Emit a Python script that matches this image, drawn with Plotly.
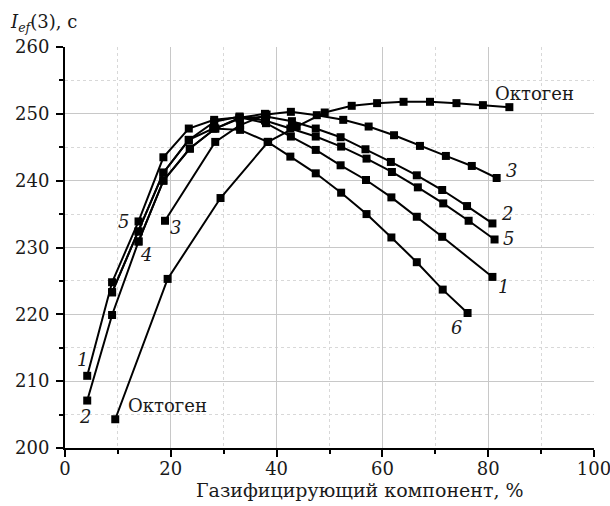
import plotly.graph_objects as go

# Data
x1 = [4.2, 8.9, 13.9, 18.6, 23.4, 28.2, 33.0, 38.0, 42.7, 47.4, 52.1, 56.9, 61.7, 66.5, 71.3, 80.8]
y1 = [210.8, 224.8, 233.9, 243.5, 247.8, 249.1, 249.5, 248.6, 246.6, 244.6, 242.3, 240.1, 237.5, 234.6, 231.6, 225.6]

x2 = [4.2, 8.9, 13.9, 18.6, 23.6, 28.4, 33.0, 38.0, 42.9, 47.4, 52.1, 56.8, 61.6, 66.5, 71.3, 76.0, 80.8]
y2 = [207.1, 219.9, 230.9, 240.0, 244.8, 247.8, 249.3, 249.6, 248.9, 247.8, 246.5, 244.7, 242.8, 240.8, 238.6, 236.2, 233.6]

x3 = [18.9, 28.4, 33.1, 38.1, 42.7, 47.6, 52.6, 57.4, 62.2, 67.1, 72.0, 76.9, 81.6]
y3 = [234.0, 245.8, 248.3, 249.9, 250.3, 249.8, 249.1, 248.1, 246.8, 245.2, 243.7, 242.2, 240.4]

x4 = [13.9, 18.6, 23.6, 28.4, 33.0, 37.8]
y4 = [230.9, 240.0, 244.8, 247.8, 249.4, 250.0]

x5 = [8.9, 13.9, 18.6, 23.4, 28.2, 33.0, 37.8, 42.6, 47.4, 52.2, 57.0, 61.8, 66.7, 71.5, 76.3, 81.2]
y5 = [223.3, 232.4, 241.2, 246.1, 248.8, 249.6, 249.0, 247.8, 246.6, 245.1, 243.3, 241.3, 239.0, 236.6, 234.0, 231.2]

x6 = [8.9, 13.9, 18.6, 23.4, 28.0, 33.1, 38.3, 42.6, 47.4, 52.2, 57.0, 61.7, 66.5, 71.4, 76.1]
y6 = [223.3, 232.4, 241.2, 246.1, 247.8, 247.6, 245.8, 243.6, 241.1, 238.2, 235.0, 231.5, 227.8, 223.7, 220.2]

x_oct = [9.5, 19.4, 29.4, 38.4, 43.8, 49.1, 54.2, 59.0, 64.0, 69.0, 74.0, 79.0, 84.0]
y_oct = [204.3, 225.3, 237.4, 245.8, 248.1, 250.2, 251.2, 251.6, 251.8, 251.8, 251.6, 251.3, 251.0]

series = [(x1, y1), (x2, y2), (x3, y3), (x4, y4), (x5, y5), (x6, y6), (x_oct, y_oct)]

# Curve labels: (text, x, y, xanchor, italic)
labels = [
    ("1", 3.3, 213.2, "center", True),
    ("2", 3.8, 204.7, "center", True),
    ("Октоген", 11.5, 206.4, "left", False),
    ("5", 11.0, 233.9, "center", True),
    ("4", 15.4, 228.9, "center", True),
    ("3", 20.8, 233.0, "center", True),
    ("Октоген", 81.0, 253.1, "left", False),
    ("3", 84.4, 241.5, "center", True),
    ("2", 83.5, 235.1, "center", True),
    ("5", 83.8, 231.4, "center", True),
    ("1", 82.9, 224.2, "center", True),
    ("6", 74.0, 218.1, "center", True),
]

y_title = "<i>I</i><sub><i>ef</i></sub>(3), с"
x_title = "Газифицирующий компонент, %"

FONT = "DejaVu Serif"
TXT = "#1a1a1a"

fig = go.Figure()
for xs, ys in series:
    fig.add_trace(go.Scatter(
        x=xs, y=ys, mode="lines+markers",
        line=dict(color="black", width=2),
        marker=dict(symbol="square", size=8, color="black"),
        showlegend=False,
    ))

for text, lx, ly, anchor, italic in labels:
    fig.add_annotation(
        x=lx, y=ly, xref="x", yref="y",
        text=f"<i>{text}</i>" if italic else text,
        showarrow=False, xanchor=anchor, yanchor="middle",
        font=dict(family=FONT, size=18, color=TXT),
    )

fig.add_annotation(
    x=-0.108, y=1.06, xref="paper", yref="paper",
    text=y_title, showarrow=False, xanchor="left", yanchor="middle",
    font=dict(family=FONT, size=18, color=TXT),
)
fig.add_annotation(
    x=0.558, y=-0.105, xref="paper", yref="paper",
    text=x_title, showarrow=False, xanchor="center", yanchor="middle",
    font=dict(family=FONT, size=19, color=TXT),
)

axis_common = dict(
    showline=True, linecolor="black", linewidth=2,
    ticks="outside", ticklen=7, tickwidth=2, tickcolor="black",
    showgrid=True, gridcolor="#c8c8c8", gridwidth=1,
    zeroline=False, automargin=False, ticklabeloverflow="allow",
    tickfont=dict(family=FONT, size=18, color=TXT),
)

fig.update_layout(
    width=610, height=506,
    margin=dict(l=65, r=16, t=47, b=58, autoexpand=False),
    plot_bgcolor="white", paper_bgcolor="white",
    font=dict(family=FONT, size=18, color=TXT),
    xaxis=dict(
        range=[0, 100], dtick=20, tick0=0, ticklabelstandoff=-4,
        minor=dict(dtick=10, ticks="outside", ticklen=4, tickwidth=2, tickcolor="black",
                   showgrid=True, gridcolor="#d8d8d8", griddash="dot", gridwidth=1),
        **axis_common,
    ),
    yaxis=dict(
        range=[200, 260], dtick=10, tick0=200, ticklabelstandoff=3,
        minor=dict(dtick=5, ticks="outside", ticklen=4, tickwidth=2, tickcolor="black",
                   showgrid=True, gridcolor="#d8d8d8", griddash="dot", gridwidth=1),
        **axis_common,
    ),
)

fig.write_html("out.html", config={"displayModeBar": False})

# remove the default page margin so the figure sits at the window's top-left
with open("out.html", "r", encoding="utf-8") as f:
    html = f.read()
html = html.replace("<head>", "<head><style>html,body{margin:0;padding:0;overflow:hidden;}</style>", 1)
with open("out.html", "w", encoding="utf-8") as f:
    f.write(html)
